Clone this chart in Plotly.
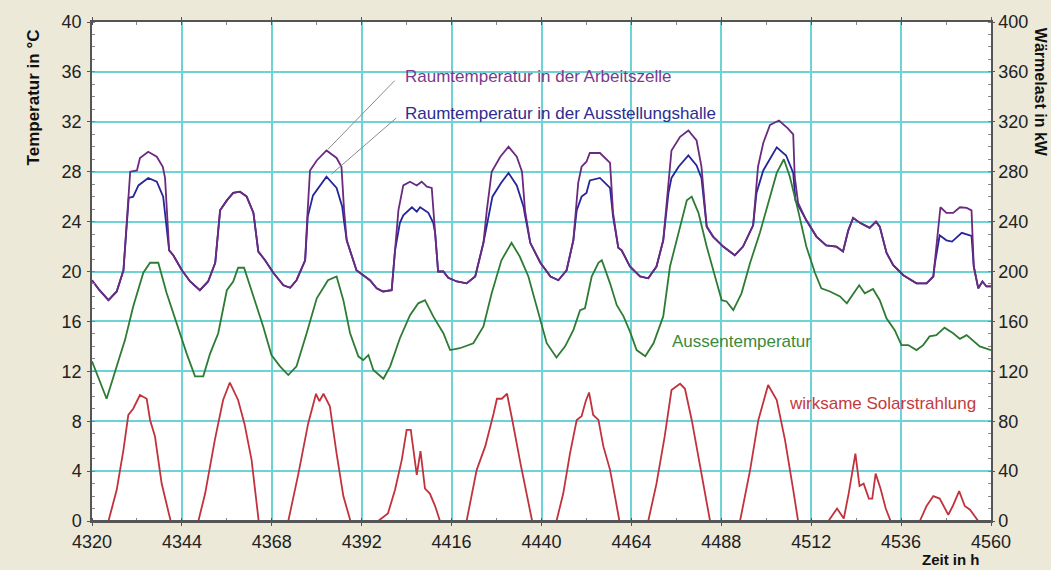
import plotly.graph_objects as go

# ---------------- data ----------------
arbeit_h = [4320, 4322, 4324.4, 4326.6, 4328.4, 4329.3, 4330.2, 4332, 4332.8, 4335, 4337.3, 4338.9, 4339.5,
            4340.6, 4341.7, 4344, 4346.2, 4348.8, 4351, 4352.9, 4354.2, 4356, 4357.7, 4359.5, 4361.3, 4363.1,
            4364.4, 4366.2, 4368.4, 4371.1, 4372.9, 4374.6, 4376.9, 4377.5, 4378.2, 4380, 4382.6, 4385.3,
            4386.6, 4387.3, 4388, 4389.3, 4390.6, 4392.4, 4394.2, 4396, 4397.7, 4400, 4400.9, 4401.8, 4403.1,
            4404.9, 4406.7, 4408, 4409.4, 4410.7, 4411.6, 4412.4, 4413.8, 4415.1, 4417.4, 4420, 4422.3, 4424.5,
            4425.4, 4426.7, 4429, 4431.2, 4433.4, 4434.8, 4435.6, 4437, 4439.7, 4442.4, 4444.5, 4446.7, 4448.5,
            4449.8, 4450.7, 4452, 4452.9, 4455.6, 4458.3, 4459.1, 4460.5, 4461.4, 4463.6, 4466.3, 4468.5,
            4470.7, 4472.5, 4473.9, 4474.7, 4477, 4479.2, 4481.4, 4482.7, 4484.1, 4485.8, 4488.5, 4491.6,
            4493.8, 4496.5, 4497.8, 4499.2, 4501, 4503.4, 4505.7, 4507.2, 4507.6, 4508.5, 4510.7, 4513.4,
            4516, 4518.7, 4520.5, 4521.9, 4523.2, 4525, 4527.6, 4529.3, 4530.3, 4532.1, 4533.9, 4536.6,
            4540.1, 4542.8, 4544.6, 4545.5, 4546.5, 4548.1, 4549.9, 4551.7, 4553.5, 4554.8, 4555.4, 4556.6,
            4557.7, 4558.8, 4560]
arbeit_t = [19.3, 18.5, 17.7, 18.4, 20.1, 24.5, 28.0, 28.1, 29.1, 29.6, 29.2, 28.4, 27.5,
            21.7, 21.3, 20.1, 19.2, 18.5, 19.2, 20.7, 24.9, 25.7, 26.3, 26.4, 26.0, 24.7,
            21.6, 20.9, 19.9, 18.9, 18.7, 19.3, 20.9, 24.5, 28.1, 28.9, 29.7, 29.1,
            28.4, 24.9, 22.5, 21.3, 20.1, 19.7, 19.3, 18.65, 18.4, 18.5, 21.7, 24.9, 26.9,
            27.2, 26.9, 27.2, 26.8, 26.7, 23.1, 20.0, 20.0, 19.5, 19.2, 19.05, 19.6, 22.3,
            24.9, 28.0, 29.2, 30.0, 29.2, 28.0, 24.9, 22.3, 20.7, 19.6, 19.3, 20.1, 22.5,
            27.1, 28.4, 28.8, 29.5, 29.5, 28.7, 24.7, 21.9, 21.7, 20.4, 19.6, 19.45,
            20.4, 22.5, 27.3, 29.7, 30.8, 31.3, 30.5, 28.4, 23.6, 22.8, 22.0, 21.3,
            22.0, 23.7, 28.4, 30.3, 31.75, 32.1, 31.5, 31.0, 27.6, 25.5, 24.1, 22.8,
            22.1, 22.0, 21.6, 23.3, 24.3, 23.9, 23.5, 24.0, 23.6, 21.5, 20.5, 19.7,
            19.05, 19.05, 19.6, 22.5, 25.15, 24.7, 24.7, 25.15, 25.1, 24.9, 20.4, 18.65,
            19.2, 18.8, 18.8]

halle_h = [4320, 4322, 4324.4, 4326.6, 4328.4, 4329.3, 4329.8, 4331, 4332.4, 4335, 4337.3, 4339, 4340,
           4340.6, 4341.7, 4344, 4346.2, 4348.8, 4351, 4352.9, 4354.2, 4356, 4357.7, 4359.5, 4361.3, 4363.1,
           4364.4, 4366.2, 4368.4, 4371.1, 4372.9, 4374.6, 4376.9, 4377.6, 4379, 4382.6, 4385.3, 4386.8,
           4387.3, 4388, 4389.3, 4390.6, 4392.4, 4394.2, 4396, 4397.7, 4400, 4400.9, 4402.2, 4403.1, 4405.4,
           4406.7, 4407.6, 4409.8, 4411.1, 4411.6, 4412.4, 4413.8, 4415.1, 4417.4, 4420, 4422.3, 4424.5,
           4425.4, 4426.9, 4429.2, 4431.2, 4433.4, 4435.2, 4435.6, 4437, 4439.7, 4442.4, 4444.5, 4446.7,
           4448.5, 4449.4, 4450.7, 4452, 4452.9, 4455.6, 4458.3, 4459.1, 4460.5, 4461.4, 4463.6, 4466.3,
           4468.5, 4470.7, 4472.5, 4473.9, 4474.7, 4476.6, 4479.2, 4481.4, 4482.7, 4483.6, 4484.1, 4485.8,
           4488.5, 4491.6, 4493.8, 4496.5, 4497.4, 4499.2, 4501.4, 4502.8, 4505.3, 4507.2, 4507.8, 4508.5,
           4510.7, 4513.4, 4516, 4518.7, 4520.5, 4521.9, 4523.2, 4525, 4527.6, 4529.3, 4530.3, 4532.1,
           4533.9, 4536.6, 4540.1, 4542.8, 4544.6, 4545, 4546.3, 4548.1, 4549.6, 4552.2, 4554.8, 4555.4,
           4556.6, 4557.7, 4558.8, 4560]
halle_t = [19.3, 18.5, 17.7, 18.4, 20.1, 23.8, 25.9, 26.0, 26.9, 27.5, 27.2, 26.0, 23.1,
           21.7, 21.3, 20.1, 19.2, 18.5, 19.2, 20.7, 24.9, 25.7, 26.3, 26.4, 26.0, 24.7,
           21.6, 20.9, 19.9, 18.9, 18.7, 19.3, 20.9, 24.4, 26.1, 27.6, 26.7, 25.2,
           24.0, 22.5, 21.3, 20.1, 19.7, 19.3, 18.65, 18.4, 18.5, 21.7, 23.9, 24.5, 25.15,
           24.8, 25.15, 24.7, 23.9, 23.1, 20.0, 20.0, 19.5, 19.2, 19.05, 19.6, 22.3,
           23.7, 26.0, 27.1, 27.9, 26.9, 25.2, 24.5, 22.3, 20.7, 19.6, 19.3, 20.1,
           22.5, 24.9, 26.0, 26.3, 27.3, 27.5, 26.7, 24.4, 21.9, 21.7, 20.4, 19.6,
           19.45, 20.4, 22.5, 26.3, 27.5, 28.4, 29.3, 28.5, 27.5, 24.9, 23.6, 22.8,
           22.0, 21.3, 22.0, 23.7, 26.3, 28.1, 29.2, 29.95, 29.3, 27.9, 25.7, 25.3,
           24.1, 22.8, 22.1, 22.0, 21.6, 23.3, 24.3, 23.9, 23.5, 24.0, 23.6, 21.5,
           20.5, 19.7, 19.05, 19.05, 19.6, 20.6, 22.9, 22.5, 22.4, 23.1, 22.85, 20.4,
           18.65, 19.2, 18.8, 18.8]

aussen_h = [4320, 4322, 4323.9, 4326.6, 4328.8, 4331, 4333.7, 4335.5, 4337.7, 4339.9, 4342.6, 4345.3,
            4347.5, 4349.7, 4351.5, 4353.7, 4356, 4357.7, 4359, 4360.6, 4363.1, 4365.7, 4367.9, 4370.2,
            4372.4, 4374.6, 4377.3, 4380, 4383, 4385.3, 4387.1, 4388.9, 4391.1, 4392.4, 4393.8, 4395.1,
            4397.8, 4399.6, 4402.2, 4404.9, 4407.1, 4408.9, 4411.1, 4413.8, 4415.6, 4418.2, 4421.8, 4424.5,
            4426.7, 4429.3, 4432, 4434.2, 4436.5, 4438.7, 4441.4, 4444, 4446.3, 4448.5, 4450.3, 4451.6,
            4453.4, 4455.2, 4456.1, 4458.3, 4460.1, 4461.9, 4463.6, 4465.4, 4467.7, 4469.9, 4472.5, 4474.3,
            4477, 4478.8, 4480.1, 4481.9, 4484.1, 4486.3, 4488.1, 4489.4, 4491.2, 4493.4, 4495.7, 4498.3,
            4501, 4502.8, 4504.7, 4506.3, 4508.5, 4510.7, 4513, 4514.7, 4517, 4519.7, 4521.5, 4523.2,
            4524.8, 4526.3, 4528.5, 4530.3, 4532.1, 4534.3, 4536.1, 4537.9, 4540.1, 4541.9, 4543.6, 4545.4,
            4547.6, 4549.9, 4551.7, 4553.5, 4555.3, 4557, 4560]
aussen_t = [12.8, 11.3, 9.8, 12.4, 14.5, 17.2, 19.9, 20.7, 20.7, 18.3, 15.85, 13.4,
            11.6, 11.6, 13.4, 15.05, 18.5, 19.2, 20.3, 20.3, 18.0, 15.6, 13.3, 12.4,
            11.7, 12.4, 15.05, 17.85, 19.3, 19.6, 17.7, 15.05, 13.2, 12.9, 13.3, 12.1,
            11.4, 12.4, 14.65, 16.5, 17.45, 17.7, 16.4, 15.05, 13.7, 13.85, 14.25, 15.6,
            18.25, 20.9, 22.3, 21.2, 19.6, 17.2, 14.25, 13.1, 14.0, 15.3, 16.9, 17.05,
            19.6, 20.7, 20.9, 19.05, 17.3, 16.4, 15.2, 13.7, 13.2, 14.25, 16.4, 20.4,
            23.6, 25.7, 26.0, 24.7, 22.0, 19.6, 17.7, 17.6, 16.9, 18.25, 20.7, 23.1,
            26.0, 27.9, 29.0, 27.6, 24.9, 22.0, 19.9, 18.65, 18.4, 18.0, 17.45, 18.25,
            18.9, 18.25, 18.6, 17.7, 16.25, 15.3, 14.1, 14.1, 13.7, 14.1, 14.8, 14.9,
            15.5, 15.05, 14.6, 14.9, 14.4, 14.0, 13.7]

solar_h = [4320, 4324.4, 4326.6, 4328.4, 4329.7, 4331, 4332.8, 4334.6, 4335.5, 4336.8, 4338.6, 4341,
           4348.4, 4350.2, 4352.8, 4355, 4356.8, 4359, 4360.7, 4362.6, 4364.5,
           4372.4, 4375.1, 4377.7, 4379.8, 4380.7, 4381.8, 4383.5, 4385.3, 4387.1, 4389,
           4396.4, 4399, 4400.9, 4402.7, 4404, 4405.1, 4406.7, 4407.7, 4408.9, 4410.2, 4411.6, 4412.9,
           4420, 4422.7, 4425, 4427.2, 4428.1, 4429.4, 4430.8, 4432.2, 4434.4, 4437.5,
           4444, 4445.8, 4447.6, 4449.4, 4450.7, 4451.8, 4452.7, 4453.8, 4455.2, 4456.5, 4458.3, 4459.6, 4460.8,
           4468.5, 4470.7, 4472.9, 4474.7, 4477, 4478.3, 4480.1, 4482.3, 4484.1, 4485,
           4493, 4495.7, 4497.9, 4500.5, 4502.8, 4505, 4507.2, 4508.5,
           4516.6, 4518.9, 4520.7, 4522, 4523.8, 4524.9, 4526, 4527.4, 4528.3, 4529.2, 4530.5, 4531.9, 4533.2,
           4541, 4542.8, 4544.6, 4546.3, 4548.6, 4549.8, 4551.5, 4553, 4554.4, 4556.6, 4560]
solar_kw = [0, 0, 25, 57, 85, 90, 101, 98, 81, 68, 30, 0,
            0, 22, 65, 97, 111, 97, 78, 49, 0,
            0, 38, 78, 102, 96, 102, 92, 54, 20, 0,
            0, 6, 25, 49, 73, 73, 37, 56, 26, 22, 12, 0,
            0, 41, 60, 86, 98, 98, 102, 81, 46, 0,
            0, 22, 54, 81, 84, 96, 103, 85, 81, 60, 41, 20, 0,
            0, 30, 68, 105, 110, 106, 81, 44, 14, 0,
            0, 41, 81, 109, 97, 65, 25, 0,
            0, 10, 2, 22, 54, 28, 30, 18, 18, 38, 26, 10, 0,
            0, 12, 20, 18, 5, 12, 24, 12, 9, 0, 0]

x_ticks = [4320, 4344, 4368, 4392, 4416, 4440, 4464, 4488, 4512, 4536, 4560]
t_ticks = [0, 4, 8, 12, 16, 20, 24, 28, 32, 36, 40]
kw_ticks = [0, 40, 80, 120, 160, 200, 240, 280, 320, 360, 400]

# ---------------- style ----------------
BG = "#ece9d8"
GRID = "#6dd3d6"
AX = "#555555"
FONT = "Arial, Liberation Sans, sans-serif"
C_ARB = "#6a2a7e"
C_HAL = "#26259a"
C_AUS = "#2e7b33"
C_SOL = "#c2323c"

fig = go.Figure()
fig.add_trace(go.Scatter(x=halle_h, y=halle_t, mode="lines", line=dict(color=C_HAL, width=1.8),
                         name="Raumtemperatur in der Ausstellungshalle", showlegend=False))
fig.add_trace(go.Scatter(x=arbeit_h, y=arbeit_t, mode="lines", line=dict(color=C_ARB, width=1.8),
                         name="Raumtemperatur in der Arbeitszelle", showlegend=False))
fig.add_trace(go.Scatter(x=aussen_h, y=aussen_t, mode="lines", line=dict(color=C_AUS, width=1.8),
                         name="Aussentemperatur", showlegend=False))
fig.add_trace(go.Scatter(x=solar_h, y=solar_kw, mode="lines", line=dict(color=C_SOL, width=1.8),
                         name="wirksame Solarstrahlung", yaxis="y2", showlegend=False))

ann_font = dict(family=FONT, size=17)
annotations = [
    dict(x=4403.0, y=35.6, xref="x", yref="y", text="Raumtemperatur in der Arbeitszelle",
         showarrow=False, xanchor="left", yanchor="middle", font=dict(ann_font, color="#7b3a8c")),
    dict(x=4403.0, y=32.7, xref="x", yref="y", text="Raumtemperatur in der Ausstellungshalle",
         showarrow=False, xanchor="left", yanchor="middle", font=dict(ann_font, color="#2d2d90")),
    dict(x=4474.3, y=14.4, xref="x", yref="y", text="Aussentemperatur",
         showarrow=False, xanchor="left", yanchor="middle", font=dict(ann_font, color="#3a8a3e")),
    dict(x=4505.5, y=9.43, xref="x", yref="y", text="wirksame Solarstrahlung",
         showarrow=False, xanchor="left", yanchor="middle", font=dict(ann_font, color="#c43a40")),
    dict(x=-0.065, y=0.848, xref="paper", yref="paper", text="<b>Temperatur in °C</b>", textangle=-90,
         showarrow=False, xanchor="center", yanchor="middle", font=dict(family=FONT, size=17, color="#111")),
    dict(x=1.0545, y=0.858, xref="paper", yref="paper", text="<b>Wärmelast in kW</b>", textangle=90,
         showarrow=False, xanchor="center", yanchor="middle", font=dict(family=FONT, size=16, color="#111")),
    dict(x=0.955, y=-0.078, xref="paper", yref="paper", text="<b>Zeit in h</b>",
         showarrow=False, xanchor="center", yanchor="middle", font=dict(family=FONT, size=15, color="#111")),
]

shapes = [
    dict(type="line", xref="x", yref="y", x0=4400.8, y0=35.3, x1=4383.0, y1=29.8,
         line=dict(color="#8a8a8a", width=1)),
    dict(type="line", xref="x", yref="y", x0=4401.2, y0=32.3, x1=4383.9, y1=27.8,
         line=dict(color="#8a8a8a", width=1)),
    # dark baseline drawn over the zero segments, as in the original
    dict(type="line", xref="paper", yref="paper", x0=0, y0=0, x1=1, y1=0, layer="above",
         line=dict(color=AX, width=2.2)),
]

fig.update_layout(
    width=1051, height=570,
    margin=dict(l=92, r=60, t=22, b=49),
    paper_bgcolor=BG, plot_bgcolor="white",
    font=dict(family=FONT, size=17, color="#222"),
    annotations=annotations, shapes=shapes,
    xaxis=dict(range=[4320, 4560], tickvals=x_ticks, ticktext=[str(v) for v in x_ticks],
               showgrid=True, gridcolor=GRID, gridwidth=1.6, zeroline=False,
               showline=True, linecolor=AX, linewidth=1.5, mirror="allticks",
               ticks="outside", ticklen=3, tickcolor=AX, ticklabelstandoff=1,
               minor=dict(dtick=12, tick0=4320, ticks="inside", ticklen=3, tickcolor="#888", showgrid=False),
               tickfont=dict(size=18)),
    yaxis=dict(range=[0, 40], tickvals=t_ticks, showgrid=True, gridcolor=GRID, gridwidth=1.6,
               zeroline=False, showline=True, linecolor=AX, linewidth=1.5, mirror=True,
               ticks="outside", ticklen=3, tickcolor=AX, ticklabelstandoff=2,
               minor=dict(dtick=1, tick0=0, ticks="inside", ticklen=3, tickcolor="#888", showgrid=False),
               tickfont=dict(size=18)),
    yaxis2=dict(range=[0, 400], tickvals=kw_ticks, overlaying="y", side="right", anchor="x",
                showgrid=False, zeroline=False, showline=True, linecolor=AX, linewidth=1.5,
                ticks="outside", ticklen=2, tickcolor=AX, ticklabelstandoff=0,
                minor=dict(dtick=10, tick0=0, ticks="inside", ticklen=3, tickcolor="#888"),
                tickfont=dict(size=18)),
)

fig.write_html("out.html")
